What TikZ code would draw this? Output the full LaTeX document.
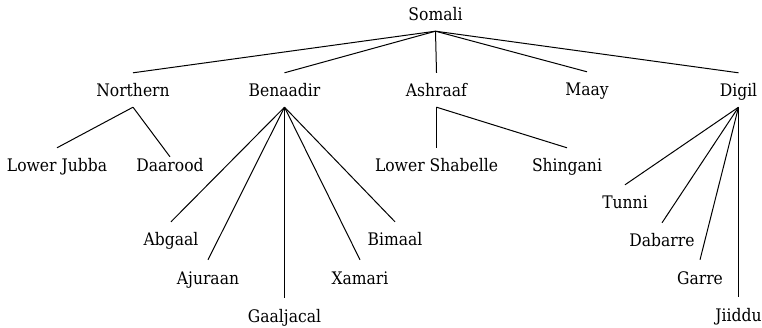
\documentclass[tikz,border=0pt]{standalone}
\usepackage{fontspec}
\setmainfont{DejaVu Serif}[FakeStretch=0.9]
\begin{document}
\begin{tikzpicture}[x=1pt,y=-1pt,
  lbl/.style={anchor=base,inner sep=0pt,text height=24pt,text depth=10pt,font=\fontsize{17.3}{20}\selectfont},
  edge/.style={line width=1pt,black}]
\useasboundingbox (0,0) rectangle (762,328);
\node[lbl] (somali) at (435.5,21) {Somali};
\node[lbl] (northern) at (133,97) {Northern};
\node[lbl] (benaadir) at (284.5,97) {Benaadir};
\node[lbl] (ashraaf) at (436.5,97) {Ashraaf};
\node[lbl] (maay) at (587,96) {Maay};
\node[lbl] (digil) at (738.5,97) {Digil};
\node[lbl] (lowerjubba) at (57,172) {Lower Jubba};
\node[lbl] (daarood) at (170,172) {Daarood};
\node[lbl] (lowershabelle) at (436.5,172) {Lower Shabelle};
\node[lbl] (shingani) at (567,172) {Shingani};
\node[lbl] (abgaal) at (171,246) {Abgaal};
\node[lbl] (ajuraan) at (208,284) {Ajuraan};
\node[lbl] (gaaljacal) at (284.5,322) {Gaaljacal};
\node[lbl] (xamari) at (360,284) {Xamari};
\node[lbl] (bimaal) at (395,246) {Bimaal};
\node[lbl] (tunni) at (625,209) {Tunni};
\node[lbl] (dabarre) at (662,247) {Dabarre};
\node[lbl] (garre) at (700,284) {Garre};
\node[lbl] (jiiddu) at (738.5,321) {Jiiddu};
\foreach \c in {northern,benaadir,ashraaf,maay,digil}
  \draw[edge] (somali.south) -- (\c.north);
\draw[edge] (northern.south) -- (lowerjubba.north);
\draw[edge] (northern.south) -- ([yshift=-9pt]daarood.north);
\foreach \c in {abgaal,ajuraan,gaaljacal,xamari,bimaal}
  \draw[edge] (benaadir.south) -- (\c.north);
\foreach \c in {lowershabelle,shingani}
  \draw[edge] (ashraaf.south) -- (\c.north);
\foreach \c in {tunni,dabarre,garre,jiiddu}
  \draw[edge] (digil.south) -- (\c.north);
\end{tikzpicture}
\end{document}
